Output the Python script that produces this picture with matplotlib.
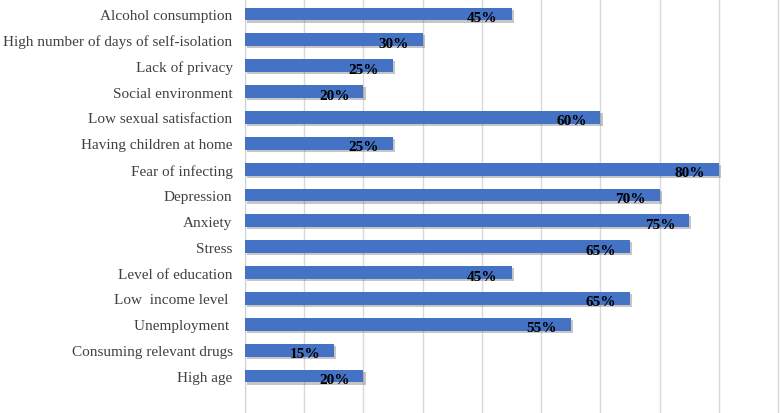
import matplotlib
matplotlib.use('Agg')
import matplotlib.pyplot as plt
import matplotlib.patheffects as pe

# categories from bottom to top
factors = ['High age', 'Consuming relevant drugs', 'Unemployment ', 'Low  income level ',
           'Level of education', 'Stress', 'Anxiety', 'Depression', 'Fear of infecting',
           'Having children at home', 'Low sexual satisfaction', 'Social environment',
           'Lack of privacy', 'High number of days of self-isolation', 'Alcohol consumption']
percent = [20, 15, 55, 65, 45, 65, 75, 70, 80, 25, 60, 20, 25, 30, 45]

plt.rcParams['font.family'] = ['Liberation Serif', 'DejaVu Serif']

fig = plt.figure(figsize=(7.8, 4.14), dpi=100)
ax = fig.add_axes([245/780, 0, 1 - 245/780, 1])

ypos = list(range(len(factors)))
bars = ax.barh(ypos, percent, height=0.5, color='#4472C4', zorder=3)
for b in bars:
    b.set_path_effects([pe.SimplePatchShadow(offset=(1.5, -1.5), shadow_rgbFace='#444444', alpha=0.3),
                        pe.Normal()])

for y, v in zip(ypos, percent):
    ax.annotate(f'{v}%', xy=(v, y), xytext=(-10, -2.5), textcoords='offset points',
                ha='right', va='center', fontsize=11, fontweight='bold', color='black', zorder=4)

ax.set_xlim(0, 90.3)
ax.set_ylim(-1.43, 14.58)
ax.set_xticks(range(0, 91, 10))
ax.set_xticklabels([])
ax.tick_params(axis='x', length=0)
ax.tick_params(axis='y', length=0, labelsize=11, labelcolor='#404040', pad=9)
ax.set_yticks(ypos)
ax.set_yticklabels(factors)
ax.grid(axis='x', color='#d9d9d9', linewidth=1, zorder=0)
for s in ['top', 'right', 'bottom']:
    ax.spines[s].set_visible(False)
ax.spines['left'].set_color('#d0d0d0')

fig.savefig('out.png', dpi=100)
